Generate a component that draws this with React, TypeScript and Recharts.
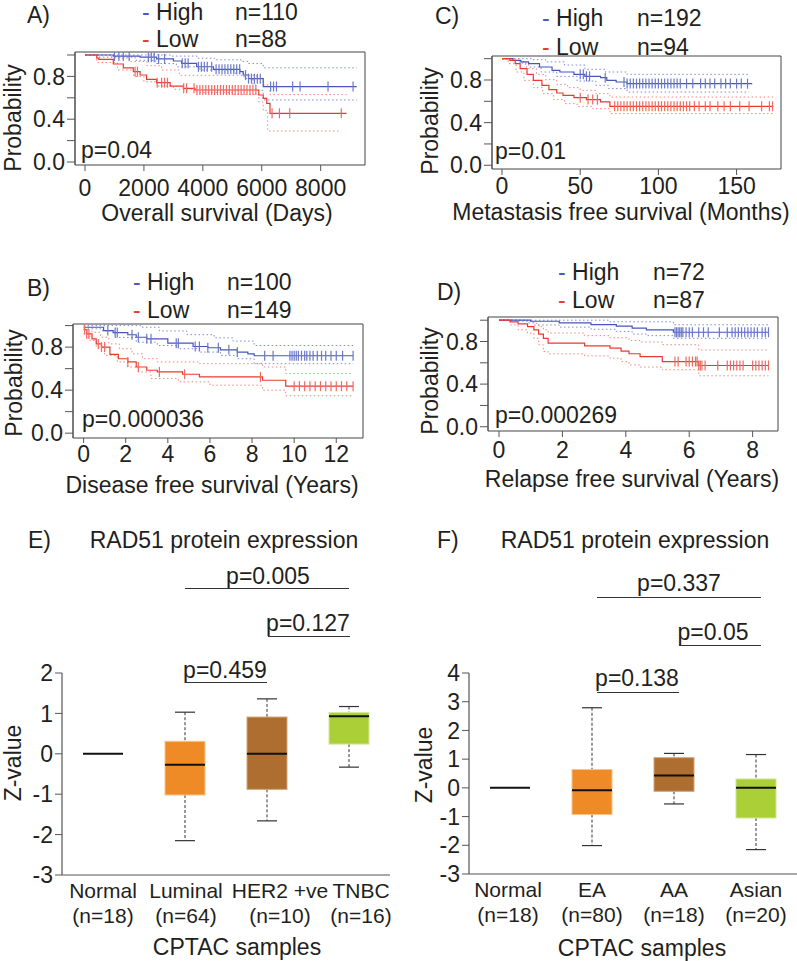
import React from "react";
import { ComposedChart, Line, Scatter, Bar, XAxis, YAxis, ReferenceArea } from "recharts";

const FONT = '"Liberation Sans", Arial, Helvetica, sans-serif';
const INK = "#231f20";
const BLUE = "#4656be";
const RED = "#ea3a2e";
const BLUE_CI = "#7f8ad4";
const RED_CI = "#f2867e";
const BLUE_TICK = "#6b78cc";
const RED_TICK = "#f06a60";

// ---- A) overall survival (days)
const aHighT = [0, 960, 1870, 2430, 3000, 3280, 3790, 4360, 5260, 5370, 5550, 6050, 9225];
const aHighS = [1.0, 0.99, 0.98, 0.963, 0.944, 0.922, 0.89, 0.866, 0.844, 0.813, 0.779, 0.705, 0.705];
const aLowT = [0, 400, 470, 960, 1300, 1640, 1870, 2090, 2430, 2890, 3340, 3730, 5830, 5900, 6050, 6170, 6280, 8880];
const aLowS = [1.0, 0.97, 0.96, 0.916, 0.88, 0.844, 0.813, 0.773, 0.741, 0.71, 0.689, 0.673, 0.673, 0.626, 0.595, 0.548, 0.455, 0.455];
const aHighUpT = [0, 2900, 3800, 4400, 5300, 5550, 6050, 9225];
const aHighUpS = [1.0, 0.99, 0.97, 0.955, 0.94, 0.92, 0.88, 0.88];
const aHighLoT = [0, 450, 1700, 2400, 3100, 3900, 5050, 5400, 5700, 5800, 6050, 9225];
const aHighLoS = [1.0, 0.98, 0.95, 0.92, 0.89, 0.86, 0.83, 0.78, 0.72, 0.67, 0.58, 0.58];
const aLowUpT = [0, 900, 1500, 2100, 2600, 3200, 5830, 6050, 6280, 8880];
const aLowUpS = [1.0, 0.97, 0.94, 0.9, 0.86, 0.81, 0.78, 0.72, 0.63, 0.63];
const aLowLoT = [0, 400, 1100, 1650, 2000, 2450, 3000, 3800, 5000, 5900, 6050, 6200, 8700];
const aLowLoS = [1.0, 0.93, 0.86, 0.8, 0.75, 0.71, 0.68, 0.65, 0.63, 0.56, 0.48, 0.29, 0.29];
const aHighCens = [1000, 1150, 1300, 1500, 2150, 2250, 2350, 2500, 2700, 3300, 3400, 3500, 3850, 3950, 4050, 4150, 4300, 4450, 4550, 4650, 4750, 4850, 4950, 5050, 5150, 5250, 5450, 5550, 5650, 5750, 5850, 5950, 6300, 6400, 6500, 7050, 7300, 8250, 9100];
const aLowCens = [1700, 1780, 2450, 2600, 2700, 2800, 3350, 3450, 3700, 3800, 3900, 4000, 4100, 4200, 4300, 4400, 4500, 4600, 4700, 4800, 4900, 5000, 5100, 5200, 5300, 5400, 5500, 5600, 5700, 5800, 6350, 6600, 6950, 8700];

// ---- B) disease free survival (years)
const bHighT = [0, 0.95, 1.4, 2.1, 2.5, 3.0, 4.0, 5.2, 5.9, 6.5, 7.3, 7.8, 8.1, 12.8];
const bHighS = [0.985, 0.954, 0.935, 0.915, 0.892, 0.877, 0.837, 0.806, 0.794, 0.775, 0.754, 0.738, 0.72, 0.72];
const bLowT = [0, 0.15, 0.4, 0.6, 0.85, 1.25, 1.65, 2.1, 2.5, 3.0, 3.5, 4.7, 5.5, 8.5, 9.6, 12.8];
const bLowS = [0.963, 0.923, 0.877, 0.83, 0.8, 0.732, 0.692, 0.662, 0.615, 0.585, 0.569, 0.548, 0.523, 0.492, 0.437, 0.437];
const bHighUpT = [0, 2.7, 3.6, 4.9, 6.2, 7.1, 8.1, 12.8];
const bHighUpS = [1.0, 0.985, 0.95, 0.916, 0.886, 0.856, 0.815, 0.815];
const bHighLoT = [0, 0.9, 1.5, 2.5, 3.5, 4.5, 5.5, 6.5, 7.3, 8.1, 12.8];
const bHighLoS = [0.97, 0.95, 0.89, 0.846, 0.815, 0.785, 0.754, 0.723, 0.692, 0.646, 0.646];
const bLowUpT = [0, 0.4, 0.8, 1.2, 1.7, 2.3, 2.8, 3.5, 5.5, 8.5, 9.6, 12.8];
const bLowUpS = [0.985, 0.938, 0.892, 0.83, 0.785, 0.738, 0.692, 0.662, 0.646, 0.615, 0.554, 0.554];
const bLowLoT = [0, 0.3, 0.6, 1.0, 1.6, 2.1, 2.6, 3.2, 4.5, 6.0, 8.5, 9.6, 12.8];
const bLowLoS = [0.923, 0.862, 0.8, 0.723, 0.662, 0.615, 0.569, 0.508, 0.477, 0.446, 0.4, 0.348, 0.348];
const bHighCens = [1.15, 1.5, 1.6, 2.3, 2.6, 3.0, 3.2, 4.4, 4.5, 5.3, 5.5, 5.9, 6.4, 6.9, 7.3, 8.6, 9.0, 9.8, 9.9, 10.0, 10.1, 10.2, 10.35, 10.5, 10.6, 10.75, 10.9, 11.1, 11.3, 11.5, 11.75, 12.0, 12.3, 12.8];
const bLowCens = [0.05, 0.15, 0.25, 0.7, 0.85, 1.0, 2.1, 2.6, 3.6, 4.8, 8.4, 10.0, 10.25, 10.5, 10.75, 11.0, 11.25, 11.5, 11.75, 12.0, 12.25, 12.5, 12.8];

// ---- C) metastasis free survival (months)
const cHighT = [0, 7, 12, 17, 24, 32, 37, 46, 53, 63, 67, 73, 80, 160];
const cHighS = [1.0, 0.984, 0.969, 0.953, 0.922, 0.89, 0.875, 0.853, 0.834, 0.822, 0.797, 0.781, 0.766, 0.766];
const cLowT = [0, 5, 8.5, 11.6, 16, 20, 25.5, 30, 35, 39, 46, 54, 63, 69, 173.5];
const cLowS = [1.0, 0.984, 0.953, 0.906, 0.853, 0.797, 0.75, 0.709, 0.678, 0.656, 0.634, 0.616, 0.594, 0.553, 0.553];
const cHighUpT = [0, 19, 28, 40, 53, 66, 80, 158];
const cHighUpS = [1.0, 0.99, 0.97, 0.94, 0.9, 0.875, 0.853, 0.853];
const cHighLoT = [0, 7, 15, 25, 35, 48, 60, 68, 80, 158];
const cHighLoS = [1.0, 0.969, 0.922, 0.875, 0.834, 0.79, 0.75, 0.719, 0.687, 0.687];
const cLowUpT = [0, 12, 17, 22, 28, 35, 42, 50, 60, 69, 174];
const cLowUpS = [1.0, 0.959, 0.906, 0.853, 0.803, 0.759, 0.728, 0.703, 0.672, 0.64, 0.64];
const cLowLoT = [0, 4, 9, 14, 20, 26, 33, 40, 48, 58, 69, 174];
const cLowLoS = [1.0, 0.953, 0.875, 0.797, 0.728, 0.672, 0.616, 0.578, 0.553, 0.531, 0.485, 0.485];
const cHighCens = [50, 52, 54, 56, 66, 78, 80, 82, 84, 86, 88, 90, 92, 94, 96, 98, 100, 102, 104, 106, 108, 110, 112, 114, 118, 122, 127, 130, 133, 136, 140, 143, 146, 150, 153, 157];
const cLowCens = [50, 55, 58, 61, 72, 74, 76, 78, 80, 82, 84, 86, 88, 90, 92, 94, 96, 98, 100, 102, 104, 106, 108, 110, 112, 114, 116, 118, 120, 123, 126, 130, 133, 138, 142, 146, 152, 158, 166, 171, 173];

// ---- D) relapse free survival (years)
const dHighT = [0, 1.0, 1.9, 2.9, 3.7, 4.2, 4.65, 5.5, 8.5];
const dHighS = [1.0, 0.99, 0.975, 0.959, 0.944, 0.925, 0.909, 0.887, 0.887];
const dLowT = [0, 0.35, 0.6, 0.9, 1.1, 1.25, 1.4, 1.55, 2.7, 3.5, 3.85, 4.1, 4.45, 5.15, 6.3, 8.5];
const dLowS = [1.0, 0.984, 0.965, 0.94, 0.91, 0.87, 0.83, 0.784, 0.759, 0.737, 0.71, 0.685, 0.659, 0.612, 0.575, 0.575];
const dHighUpT = [0, 3.5, 5.5, 8.5];
const dHighUpS = [1.0, 0.985, 0.957, 0.957];
const dHighLoT = [0, 0.9, 1.1, 1.9, 2.9, 3.7, 4.2, 4.65, 5.5, 8.5];
const dHighLoS = [1.0, 0.975, 0.955, 0.935, 0.915, 0.895, 0.87, 0.855, 0.83, 0.83];
const dLowUpT = [0, 0.6, 1.1, 1.25, 1.4, 1.55, 2.7, 3.5, 4.1, 4.45, 5.15, 6.3, 8.5];
const dLowUpS = [1.0, 0.99, 0.97, 0.94, 0.91, 0.88, 0.855, 0.835, 0.81, 0.795, 0.77, 0.72, 0.72];
const dLowLoT = [0, 0.35, 0.6, 0.9, 1.1, 1.25, 1.4, 1.55, 2.7, 3.5, 3.85, 4.1, 4.45, 5.15, 6.3, 8.5];
const dLowLoS = [1.0, 0.955, 0.91, 0.878, 0.831, 0.769, 0.706, 0.684, 0.665, 0.643, 0.612, 0.58, 0.56, 0.535, 0.478, 0.478];
const dHighCens = [5.55, 5.6, 5.65, 5.7, 5.75, 5.8, 5.9, 6.0, 6.1, 6.3, 6.45, 6.6, 6.95, 7.2, 7.35, 7.45, 7.55, 7.65, 7.75, 7.85, 7.95, 8.05, 8.15, 8.3, 8.4, 8.5];
const dLowCens = [5.55, 5.65, 5.9, 6.0, 6.1, 6.2, 6.25, 6.3, 6.35, 6.4, 6.5, 6.9, 7.2, 7.3, 7.4, 7.5, 7.6, 7.7, 8.0, 8.1, 8.2, 8.3, 8.4, 8.5];

// ---- E/F) CPTAC box plots
const eCats = ["Normal", "Luminal", "HER2 +ve", "TNBC"];
const eN = ["(n=18)", "(n=64)", "(n=10)", "(n=16)"];
const eMin = [0, -2.15, -1.66, -0.33];
const eQ1 = [0, -1.02, -0.88, 0.24];
const eMed = [0, -0.27, 0, 0.93];
const eQ3 = [0, 0.31, 0.91, 1.02];
const eMax = [0, 1.03, 1.36, 1.17];

const fCats = ["Normal", "EA", "AA", "Asian"];
const fN = ["(n=18)", "(n=80)", "(n=18)", "(n=20)"];
const fMin = [0, -2.01, -0.56, -2.15];
const fQ1 = [0, -0.93, -0.12, -1.05];
const fMed = [0, -0.08, 0.43, 0.0];
const fQ3 = [0, 0.64, 1.05, 0.31];
const fMax = [0, 2.79, 1.2, 1.16];

const boxColors = ["#231f20", "#ee8b27", "#ad6e30", "#abcf37"];
const boxEdges = ["#231f20", "#f6c48e", "#d3a47a", "#d2e79a"];

// label nudges (px) for the category tick text, where the source labels sit off-centre
const eLabelDx = [0, 1, 13, 12];
const fLabelDx = [-2, 0, 0, 0];

const steps = (T: number[], S: number[]) => T.map((t, i) => ({ t, s: S[i] }));
const survAt = (T: number[], S: number[], t: number) => {
  let v = S[0];
  for (let i = 0; i < T.length; i++) if (T[i] <= t) v = S[i];
  return v;
};
const cens = (C: number[], T: number[], S: number[]) => C.map((t) => ({ t, s: survAt(T, S, t) }));

const censMark = (color: string) => (p: any) => (
  <line x1={p.cx} x2={p.cx} y1={p.cy - 5} y2={p.cy + 5} stroke={color} strokeWidth={1.2} />
);

function Txt({ x, y, children, size = 23, anchor = "start", color = INK, rotate = 0 }: any) {
  const tx = anchor === "middle" ? "-50%" : anchor === "end" ? "-100%" : "0";
  return (
    <div
      style={{
        position: "absolute",
        left: x,
        top: y,
        transform: `translate(${tx}, -50%) rotate(${rotate}deg)`,
        fontSize: size,
        lineHeight: 1,
        whiteSpace: "nowrap",
        color,
      }}
    >
      {children}
    </div>
  );
}

function HLine({ x1, x2, y }: any) {
  return <div style={{ position: "absolute", left: x1, top: y, width: x2 - x1, borderTop: "1.5px solid #333" }} />;
}

type Curve = { T: number[]; S: number[] };
type KMProps = {
  left: number; top: number; width: number; height: number;
  box: [number, number, number, number];
  xDomain: [number, number]; yDomain: [number, number]; xTicks: number[];
  xTickSize: number; xTickMargin: number;
  high: Curve; low: Curve; highUp: Curve; highLo: Curve; lowUp: Curve; lowLo: Curve;
  highCens: number[]; lowCens: number[];
};

function KM(p: KMProps) {
  const YW = 40;
  const XH = 30;
  const [bx0, bx1, by0, by1] = p.box;
  const margin = {
    left: bx0 - p.left - YW,
    right: p.left + p.width - bx1,
    top: by0 - p.top,
    bottom: p.top + p.height - by1 - XH,
  };
  const tickStyle = { fontSize: 23, fill: INK };
  const ci = (c: Curve, color: string, key: string) => (
    <Line key={key} data={steps(c.T, c.S)} dataKey="s" type="stepAfter" stroke={color} strokeWidth={1}
      strokeDasharray="1.5 2.5" dot={false} isAnimationActive={false} />
  );
  return (
    <div style={{ position: "absolute", left: p.left, top: p.top }}>
      <ComposedChart width={p.width} height={p.height} margin={margin}>
        <XAxis type="number" dataKey="t" domain={p.xDomain} allowDataOverflow ticks={p.xTicks} interval={0}
          height={XH} axisLine={false} tickSize={p.xTickSize} tickMargin={p.xTickMargin}
          tickLine={{ stroke: "#555" }} tick={tickStyle} />
        <YAxis type="number" dataKey="s" domain={p.yDomain} allowDataOverflow ticks={[0, 0.2, 0.4, 0.6, 0.8, 1]}
          interval={0} width={YW} tickSize={8} tickMargin={2} axisLine={{ stroke: "#555" }}
          tickLine={{ stroke: "#555" }} tick={tickStyle}
          tickFormatter={(v: number) => ([0, 0.4, 0.8].includes(v) ? v.toFixed(1) : "")} />
        <ReferenceArea x1={p.xDomain[0]} x2={p.xDomain[1]} y1={p.yDomain[0]} y2={p.yDomain[1]}
          fill="none" stroke="#444" strokeWidth={1} fillOpacity={0} />
        {ci(p.highUp, BLUE_CI, "hu")}
        {ci(p.highLo, BLUE_CI, "hl")}
        {ci(p.lowUp, RED_CI, "lu")}
        {ci(p.lowLo, RED_CI, "ll")}
        <Line data={steps(p.high.T, p.high.S)} dataKey="s" type="stepAfter" stroke={BLUE} strokeWidth={1.2}
          dot={false} isAnimationActive={false} />
        <Line data={steps(p.low.T, p.low.S)} dataKey="s" type="stepAfter" stroke={RED} strokeWidth={1.2}
          dot={false} isAnimationActive={false} />
        <Scatter data={cens(p.highCens, p.high.T, p.high.S)} shape={censMark(BLUE_TICK)} isAnimationActive={false} />
        <Scatter data={cens(p.lowCens, p.low.T, p.low.S)} shape={censMark(RED_TICK)} isAnimationActive={false} />
      </ComposedChart>
    </div>
  );
}

function BoxShape(props: any) {
  const { x, y, width, height, payload } = props;
  const [lo, hi] = payload.range;
  const cx = x + width / 2;
  const top = Math.min(y, y + height);
  if (hi === lo) {
    return <line x1={x} x2={x + width} y1={top} y2={top} stroke="#111" strokeWidth={2} />;
  }
  const k = Math.abs(height) / (hi - lo);
  const py = (v: number) => top + (hi - v) * k;
  const cap = width / 4;
  return (
    <g>
      <line x1={cx} x2={cx} y1={py(hi)} y2={py(payload.q3)} stroke="#333" strokeDasharray="3 2" />
      <line x1={cx} x2={cx} y1={py(payload.q1)} y2={py(lo)} stroke="#333" strokeDasharray="3 2" />
      <line x1={cx - cap} x2={cx + cap} y1={py(hi)} y2={py(hi)} stroke="#333" strokeWidth={1.2} />
      <line x1={cx - cap} x2={cx + cap} y1={py(lo)} y2={py(lo)} stroke="#333" strokeWidth={1.2} />
      <rect x={x} y={py(payload.q3)} width={width} height={py(payload.q1) - py(payload.q3)}
        fill={payload.color} stroke={payload.edge} strokeWidth={1} />
      <line x1={x} x2={x + width} y1={py(payload.med)} y2={py(payload.med)} stroke="#111" strokeWidth={2} />
    </g>
  );
}

function makeCatTick(cats: string[], ns: string[], dxs: number[]) {
  return (props: any) => {
    const { x, y, payload } = props;
    const i = cats.indexOf(payload.value);
    const lx = x + (dxs[i] || 0);
    return (
      <text x={lx} y={y} textAnchor="middle" fontSize={21} fill={INK}>
        <tspan x={lx} dy={22.5}>{payload.value}</tspan>
        <tspan x={lx} dy={25}>{ns[i]}</tspan>
      </text>
    );
  };
}

function BoxPanel({ left, top, width, height, plot, cats, ns, dxs, mins, q1s, meds, q3s, maxs, yDomain, yTicks }: any) {
  const YW = 40;
  const XH = 60;
  const [px0, px1, py0, py1] = plot;
  const margin = { left: px0 - left - YW, right: left + width - px1, top: py0 - top, bottom: top + height - py1 - XH };
  const data = cats.map((c: string, i: number) => ({
    name: c, range: [mins[i], maxs[i]], q1: q1s[i], med: meds[i], q3: q3s[i],
    color: boxColors[i], edge: boxEdges[i],
  }));
  return (
    <div style={{ position: "absolute", left, top }}>
      <ComposedChart width={width} height={height} margin={margin} data={data}>
        <XAxis dataKey="name" height={XH} tickLine={false} tickSize={0} tickMargin={0} interval={0}
          axisLine={{ stroke: "#555", strokeWidth: 1.2 }} tick={makeCatTick(cats, ns, dxs)} />
        <YAxis type="number" domain={yDomain} ticks={yTicks} interval={0} width={YW} tickSize={7} tickMargin={2}
          axisLine={{ stroke: "#555", strokeWidth: 1.2 }} tickLine={{ stroke: "#555" }}
          tick={{ fontSize: 23, fill: INK }} />
        <Bar dataKey="range" barSize={40} shape={BoxShape} isAnimationActive={false} />
      </ComposedChart>
    </div>
  );
}

function Legend({ x, xn, yHigh, yLow, nHigh, nLow }: any) {
  return (
    <>
      <Txt x={x} y={yHigh}><span style={{ color: BLUE }}>-</span> High</Txt>
      <Txt x={xn} y={yHigh}>{nHigh}</Txt>
      <Txt x={x} y={yLow}><span style={{ color: RED }}>-</span> Low</Txt>
      <Txt x={xn} y={yLow}>{nLow}</Txt>
    </>
  );
}

export default function App() {
  return (
    <div style={{ position: "absolute", left: 0, top: 0, width: 797, height: 961, overflow: "hidden",
      background: "#fff", fontFamily: FONT, color: INK }}>
      <KM left={0} top={0} width={400} height={230} box={[75, 365, 52, 165]}
        xDomain={[-340, 9505]} yDomain={[-0.028, 1.028]} xTicks={[0, 2000, 4000, 6000, 8000]}
        xTickSize={6} xTickMargin={9}
        high={{ T: aHighT, S: aHighS }} low={{ T: aLowT, S: aLowS }}
        highUp={{ T: aHighUpT, S: aHighUpS }} highLo={{ T: aHighLoT, S: aHighLoS }}
        lowUp={{ T: aLowUpT, S: aLowUpS }} lowLo={{ T: aLowLoT, S: aLowLoS }}
        highCens={aHighCens} lowCens={aLowCens} />
      <KM left={400} top={0} width={397} height={230} box={[492, 781, 56, 169]}
        xDomain={[-6.4, 178.4]} yDomain={[-0.035, 1.025]} xTicks={[0, 50, 100, 150]}
        xTickSize={6} xTickMargin={3}
        high={{ T: cHighT, S: cHighS }} low={{ T: cLowT, S: cLowS }}
        highUp={{ T: cHighUpT, S: cHighUpS }} highLo={{ T: cHighLoT, S: cHighLoS }}
        lowUp={{ T: cLowUpT, S: cLowUpS }} lowLo={{ T: cLowLoT, S: cLowLoS }}
        highCens={cHighCens} lowCens={cLowCens} />
      <KM left={0} top={230} width={400} height={240} box={[73, 363, 324, 438]}
        xDomain={[-0.503, 13.27]} yDomain={[-0.045, 1.015]} xTicks={[0, 2, 4, 6, 8, 10, 12]}
        xTickSize={5} xTickMargin={3}
        high={{ T: bHighT, S: bHighS }} low={{ T: bLowT, S: bLowS }}
        highUp={{ T: bHighUpT, S: bHighUpS }} highLo={{ T: bHighLoT, S: bHighLoS }}
        lowUp={{ T: bLowUpT, S: bLowUpS }} lowLo={{ T: bLowLoT, S: bLowLoS }}
        highCens={bHighCens} lowCens={bLowCens} />
      <KM left={400} top={230} width={397} height={240} box={[488, 778, 317, 431]}
        xDomain={[-0.347, 8.8]} yDomain={[-0.04, 1.03]} xTicks={[0, 2, 4, 6, 8]}
        xTickSize={6} xTickMargin={5}
        high={{ T: dHighT, S: dHighS }} low={{ T: dLowT, S: dLowS }}
        highUp={{ T: dHighUpT, S: dHighUpS }} highLo={{ T: dHighLoT, S: dHighLoS }}
        lowUp={{ T: dLowUpT, S: dLowUpS }} lowLo={{ T: dLowLoT, S: dLowLoS }}
        highCens={dHighCens} lowCens={dLowCens} />

      <BoxPanel left={0} top={640} width={400} height={321} plot={[62, 390, 673, 875]}
        cats={eCats} ns={eN} dxs={eLabelDx} mins={eMin} q1s={eQ1} meds={eMed} q3s={eQ3} maxs={eMax}
        yDomain={[-3, 2]} yTicks={[-3, -2, -1, 0, 1, 2]} />
      <BoxPanel left={400} top={640} width={397} height={321} plot={[469, 797, 673, 874]}
        cats={fCats} ns={fN} dxs={fLabelDx} mins={fMin} q1s={fQ1} meds={fMed} q3s={fQ3} maxs={fMax}
        yDomain={[-3, 4]} yTicks={[-3, -2, -1, 0, 1, 2, 3, 4]} />

      {/* panel letters */}
      <Txt x={27} y={15}>A)</Txt>
      <Txt x={435} y={16}>C)</Txt>
      <Txt x={27} y={288}>B)</Txt>
      <Txt x={437} y={292}>D)</Txt>
      <Txt x={28} y={540}>E)</Txt>
      <Txt x={437} y={540}>F)</Txt>

      {/* legends */}
      <Legend x={142} xn={235} yHigh={12} yLow={39} nHigh="n=110" nLow="n=88" />
      <Legend x={542} xn={637} yHigh={18} yLow={47} nHigh="n=192" nLow="n=94" />
      <Legend x={133} xn={227} yHigh={282} yLow={310} nHigh="n=100" nLow="n=149" />
      <Legend x={558} xn={653} yHigh={272} yLow={300} nHigh="n=72" nLow="n=87" />

      {/* p values in KM plots */}
      <Txt x={81} y={150}>p=0.04</Txt>
      <Txt x={495} y={151}>p=0.01</Txt>
      <Txt x={82} y={419}>p=0.000036</Txt>
      <Txt x={495} y={415}>p=0.000269</Txt>

      {/* axis titles */}
      <Txt x={13} y={118} anchor="middle" rotate={-90}>Probability</Txt>
      <Txt x={430} y={121} anchor="middle" rotate={-90}>Probability</Txt>
      <Txt x={14} y={383} anchor="middle" rotate={-90}>Probability</Txt>
      <Txt x={430} y={381} anchor="middle" rotate={-90}>Probability</Txt>
      <Txt x={217} y={213} anchor="middle">Overall survival (Days)</Txt>
      <Txt x={621} y={212} anchor="middle">Metastasis free survival (Months)</Txt>
      <Txt x={212} y={485} anchor="middle">Disease free survival (Years)</Txt>
      <Txt x={632} y={479} anchor="middle">Relapse free survival (Years)</Txt>

      {/* box plot titles and brackets */}
      <Txt x={224} y={540} anchor="middle">RAD51 protein expression</Txt>
      <Txt x={635} y={540} anchor="middle">RAD51 protein expression</Txt>
      <Txt x={268} y={576} anchor="middle">p=0.005</Txt>
      <HLine x1={185} x2={349} y={588} />
      <Txt x={308} y={623} anchor="middle">p=0.127</Txt>
      <HLine x1={268} x2={350} y={636} />
      <Txt x={225} y={670} anchor="middle">p=0.459</Txt>
      <HLine x1={185} x2={267} y={682} />
      <Txt x={679} y={583} anchor="middle">p=0.337</Txt>
      <HLine x1={597} x2={761} y={597} />
      <Txt x={713} y={632} anchor="middle">p=0.05</Txt>
      <HLine x1={679} x2={761} y={645} />
      <Txt x={637} y={678} anchor="middle">p=0.138</Txt>
      <HLine x1={597} x2={679} y={692} />

      <Txt x={13} y={763} anchor="middle" rotate={-90}>Z-value</Txt>
      <Txt x={424} y={765} anchor="middle" rotate={-90}>Z-value</Txt>
      <Txt x={237} y={947} anchor="middle">CPTAC samples</Txt>
      <Txt x={642} y={948} anchor="middle">CPTAC samples</Txt>
    </div>
  );
}
